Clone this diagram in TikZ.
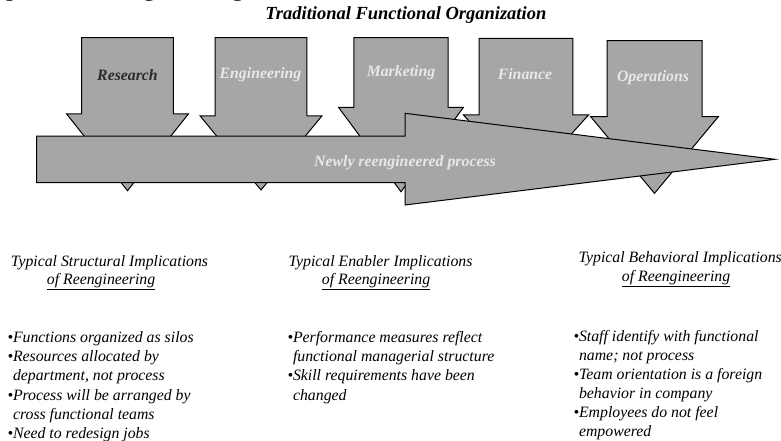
\documentclass[tikz,border=0pt]{standalone}
\usepackage{fontspec}
\setmainfont{Liberation Serif}
\definecolor{boxgray}{HTML}{A6A6A6}
\definecolor{lighttext}{HTML}{E8E8E8}
\definecolor{darktext}{HTML}{2A2A2A}
% downward block arrow: centre x, shaft half-width, top y, wing y, wing half-width, tip y
\newcommand\downblock[6]{%
  \draw[block] (#1-#2,#3) -- (#1+#2,#3) -- (#1+#2,#4) -- (#1+#5,#4)
    -- (#1,#6) -- (#1-#5,#4) -- (#1-#2,#4) -- cycle;}
\begin{document}
\begin{tikzpicture}[x=1pt,y=-1pt,
  block/.style={fill=boxgray,draw=black,line width=1pt,line join=miter},
  boxlbl/.style={font=\fontsize{15.8}{19}\selectfont\bfseries\itshape,inner sep=0,anchor=base,text=lighttext},
  head/.style={font=\fontsize{15.8}{19}\selectfont\itshape,inner sep=0,anchor=base west},
  item/.style={head}]
\useasboundingbox (0,0) rectangle (781,441);

% page heading, mostly above the visible area
\begin{scope}
  \clip (0,0) rectangle (781,441);
  \node[font=\fontsize{27}{30}\selectfont,inner sep=0,anchor=base west] (pagetitle) at (-24,-4) {Impact of Reengineering};
\end{scope}

\node[font=\fontsize{18.5}{22}\selectfont\bfseries\itshape,inner sep=0,anchor=base] (title) at (405.8,19.5) {Traditional Functional Organization};

% functional silos
\downblock{127.5}{45.8}{37.7}{114}{60.8}{190.7}
\downblock{261}{45.8}{37.7}{116}{60.8}{190}
\downblock{401}{47.2}{37.7}{107.3}{62.5}{191.7}
\downblock{526}{46.8}{38.3}{115}{62.5}{184}
\downblock{654.5}{47.5}{40.7}{116.7}{63.8}{193.3}

% cross-functional process arrow
\draw[block] (36.7,136) -- (405,136) -- (405,113.3) -- (775,159.3) -- (405,205) -- (405,182.7) -- (36.7,182.7) -- cycle;

\node[boxlbl,text=darktext] (research) at (127.5,81) {Research};
\node[boxlbl] (engineering) at (260.5,79) {Engineering};
\node[boxlbl] (marketing) at (401,77) {Marketing};
\node[boxlbl] (finance) at (525,80) {Finance};
\node[boxlbl] (operations) at (653,81.5) {Operations};
\node[boxlbl] (process) at (405,166.5) {Newly reengineered process};

% structural implications
\node[head] (sh1) at (10.7,266) {Typical Structural Implications};
\node[head] (sh2) at (46.7,284.5) {\underline{of Reengineering}};
\foreach \t [count=\i] in {{•Functions organized as silos},{•Resources allocated by},{\phantom{•}department, not process},{•Process will be arranged by},{\phantom{•}cross functional teams},{•Need to redesign jobs}}
  \node[item] (s\i) at (7.3,{342.5+19.2*(\i-1)}) {\t};

% enabler implications
\node[head] (eh1) at (288.3,266) {Typical Enabler Implications};
\node[head] (eh2) at (321.7,284.5) {\underline{of Reengineering}};
\foreach \t [count=\i] in {{•Performance measures reflect},{\phantom{•}functional managerial structure},{•Skill requirements have been},{\phantom{•}changed}}
  \node[item] (e\i) at (287.3,{342.5+19.2*(\i-1)}) {\t};

% behavioral implications
\node[head] (bh1) at (578.3,262) {Typical Behavioral Implications};
\node[head] (bh2) at (621.7,281.5) {\underline{of Reengineering}};
\foreach \t [count=\i] in {{•Staff identify with functional},{\phantom{•}name; not process},{•Team orientation is a foreign},{\phantom{•}behavior in company},{•Employees do not feel},{\phantom{•}empowered}}
  \node[item] (b\i) at (573.3,{341+19.1*(\i-1)}) {\t};
\end{tikzpicture}
\end{document}
